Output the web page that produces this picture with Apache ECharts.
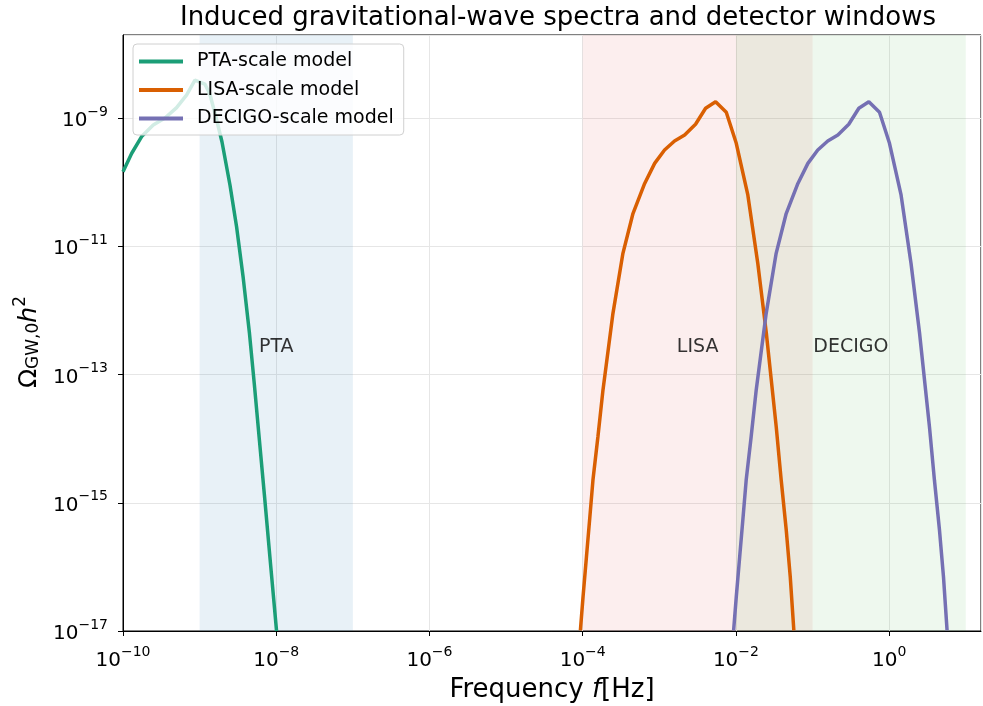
<!DOCTYPE html>
<html>
<head>
<meta charset="utf-8">
<title>Induced gravitational-wave spectra</title>
<script src="https://cdn.jsdelivr.net/npm/echarts@6/dist/echarts.min.js"></script>
<style>
  html, body { margin: 0; padding: 0; background: #fff; }
  #chart { width: 983px; height: 706px; }
</style>
</head>
<body>
<div id="chart"></div>
<script>
// spectra: frequency [Hz] and Omega_GW,0 h^2
const ptaFreq = [1.00e-10, 1.30e-10, 1.75e-10, 2.48e-10, 3.53e-10, 5.01e-10, 6.78e-10, 8.69e-10,
  1.17e-9, 1.36e-9, 1.67e-9, 1.96e-9, 2.49e-9, 3.04e-9, 3.71e-9, 4.47e-9, 5.19e-9, 6.03e-9,
  7.01e-9, 8.27e-9, 1.01e-8];
const ptaOmega = [1.45e-10, 2.82e-10, 5.13e-10, 7.76e-10, 1.00e-9, 1.45e-9, 2.29e-9, 3.89e-9,
  3.39e-9, 2.37e-9, 9.31e-10, 4.23e-10, 9.02e-11, 2.00e-11, 3.19e-12, 4.43e-13, 6.84e-14, 9.48e-15,
  1.32e-15, 1.42e-16, 1.00e-17];

const lisaFreq = [9.33e-5, 1.01e-4, 1.12e-4, 1.23e-4, 1.36e-4, 1.58e-4, 1.84e-4, 2.48e-4, 3.35e-4,
  4.53e-4, 6.44e-4, 8.69e-4, 1.17e-3, 1.58e-3, 2.14e-3, 2.97e-3, 4.02e-3, 5.43e-3, 7.48e-3,
  1.01e-2, 1.43e-2, 1.93e-2, 2.49e-2, 3.36e-2, 3.90e-2, 4.54e-2, 5.12e-2, 5.70e-2];
const lisaOmega = [1.02e-17, 3.39e-17, 1.45e-16, 5.37e-16, 2.24e-15, 1.07e-14, 5.75e-14, 8.91e-13,
  7.76e-12, 3.24e-11, 9.55e-11, 1.96e-10, 3.17e-10, 4.38e-10, 5.43e-10, 7.98e-10, 1.42e-9, 1.79e-9,
  1.23e-9, 4.03e-10, 6.31e-11, 5.37e-12, 4.47e-13, 1.51e-14, 2.24e-15, 3.72e-16, 6.92e-17, 1.02e-17];

const decigoFreq = [9.33e-3, 1.01e-2, 1.12e-2, 1.23e-2, 1.36e-2, 1.58e-2, 1.84e-2, 2.48e-2, 3.35e-2,
  4.53e-2, 6.44e-2, 8.69e-2, 0.117, 0.158, 0.214, 0.297, 0.402, 0.543, 0.748,
  1.01, 1.43, 1.93, 2.49, 3.36, 3.90, 4.54, 5.12, 5.70];
const decigoOmega = [1.02e-17, 3.39e-17, 1.45e-16, 5.37e-16, 2.24e-15, 1.07e-14, 5.75e-14, 8.91e-13,
  7.76e-12, 3.24e-11, 9.55e-11, 1.96e-10, 3.17e-10, 4.38e-10, 5.43e-10, 7.98e-10, 1.42e-9, 1.79e-9,
  1.23e-9, 4.03e-10, 6.31e-11, 5.37e-12, 4.47e-13, 1.51e-14, 2.24e-15, 3.72e-16, 6.92e-17, 1.02e-17];

const seriesNames = ["PTA-scale model", "LISA-scale model", "DECIGO-scale model"];

// detector windows [Hz]
const bandNames = ["PTA", "LISA", "DECIGO"];
const bandLow = [1e-9, 1e-4, 1e-2];
const bandHigh = [1e-7, 1e-1, 1e1];
const bandLabelOmega = 2.7e-13;

// tick labels (powers of ten)
const xTickExp = [-10, -8, -6, -4, -2, 0];
const yTickExp = [-17, -15, -13, -11, -9];

const FONT = "DejaVu Sans";
const lineColors = ["#1b9e77", "#d95f02", "#7570b3"];
const bandColors = ["rgba(31,119,180,0.1)", "rgba(214,39,40,0.08)", "rgba(44,160,44,0.08)"];

function pairs(f, o) {
  return f.map((v, i) => [v, o[i]]);
}

function powLabel(allowed) {
  return function (v) {
    const l = Math.log10(v);
    const e = Math.round(l);
    if (Math.abs(l - e) > 1e-6 || allowed.indexOf(e) < 0) return "";
    return "{b|10}{s|" + (e < 0 ? "\u2212" + (-e) : String(e)) + "}";
  };
}

const tickRich = {
  b: { fontFamily: FONT, fontSize: 20, color: "#000", lineHeight: 26, verticalAlign: "bottom" },
  s: { fontFamily: FONT, fontSize: 14, color: "#000", lineHeight: 15, verticalAlign: "top" }
};

const chart = echarts.init(document.getElementById("chart"), null, { renderer: "canvas" });

const lines = [pairs(ptaFreq, ptaOmega), pairs(lisaFreq, lisaOmega), pairs(decigoFreq, decigoOmega)];

chart.setOption({
  animation: false,
  backgroundColor: "#fff",
  title: {
    text: "Induced gravitational-wave spectra and detector windows",
    left: 553,
    textAlign: "center",
    top: 0,
    textStyle: { fontFamily: FONT, fontSize: 26, fontWeight: "normal", color: "#000" }
  },
  grid: {
    left: 123, right: 2, top: 35, bottom: 75,
    outerBoundsMode: "none",
    show: true, borderColor: "#000", borderWidth: 1, backgroundColor: "transparent"
  },
  legend: {
    data: seriesNames,
    orient: "vertical",
    left: 133, top: 44,
    padding: [8, 10, 7, 6],
    itemGap: 9.5,
    itemWidth: 44, itemHeight: 4,
    icon: "rect",
    backgroundColor: "rgba(255,255,255,0.8)",
    borderColor: "#d0d0d0", borderWidth: 1, borderRadius: 4,
    textStyle: { fontFamily: FONT, fontSize: 19, color: "#000", padding: [0, 0, 0, 9] }
  },
  xAxis: {
    type: "log", logBase: 10,
    min: 1e-10, max: 15.8, interval: 2,
    name: "Frequency {i|f}[Hz]",
    nameLocation: "middle", nameGap: 46,
    nameTextStyle: {
      fontFamily: FONT, fontSize: 26, color: "#000",
      rich: { i: { fontFamily: FONT, fontSize: 26, fontStyle: "italic", color: "#000" } }
    },
    axisLine: { show: true, lineStyle: { color: "#000", width: 1 } },
    axisTick: { show: true, length: 5, lineStyle: { color: "#000" } },
    minorTick: { show: false },
    axisLabel: { margin: 14, formatter: powLabel(xTickExp), rich: tickRich, showMaxLabel: false },
    splitLine: { show: true, lineStyle: { color: "#e6e6e6", width: 1 } }
  },
  yAxis: {
    type: "log", logBase: 10,
    min: 1e-17, max: 1.97e-8, interval: 2,
    name: "{o|\u03A9}{sub|GW,0}{i|h}{sup|2}",
    nameLocation: "middle", nameGap: 80, nameRotate: 90,
    nameTextStyle: {
      fontFamily: FONT, fontSize: 24, color: "#000", padding: [0, 18, 0, 0],
      rich: {
        o: { fontFamily: FONT, fontSize: 25, color: "#000", lineHeight: 30, verticalAlign: "bottom" },
        sub: { fontFamily: FONT, fontSize: 17, color: "#000", lineHeight: 16, verticalAlign: "bottom" },
        i: { fontFamily: FONT, fontSize: 25, fontStyle: "italic", color: "#000", lineHeight: 30, verticalAlign: "bottom" },
        sup: { fontFamily: FONT, fontSize: 17, color: "#000", lineHeight: 16, verticalAlign: "top" }
      }
    },
    axisLine: { show: true, lineStyle: { color: "#000", width: 1 } },
    axisTick: { show: true, length: 5, lineStyle: { color: "#000" } },
    minorTick: { show: false },
    axisLabel: { margin: 15, formatter: powLabel(yTickExp), rich: tickRich, showMaxLabel: false },
    splitLine: { show: true, lineStyle: { color: "#e6e6e6", width: 1 } }
  },
  series: seriesNames.map((name, k) => ({
    name: name,
    type: "line",
    data: lines[k],
    symbol: "none",
    showSymbol: false,
    z: 3,
    lineStyle: { color: lineColors[k], width: 3.5 },
    itemStyle: { color: lineColors[k] },
    markArea: {
      silent: true,
      itemStyle: { color: bandColors[k] },
      data: [[{ xAxis: bandLow[k] }, { xAxis: bandHigh[k] }]]
    }
  })).concat([{
    type: "scatter",
    silent: true,
    symbolSize: 0,
    z: 4,
    data: bandNames.map((n, k) => ({ name: n, value: [Math.sqrt(bandLow[k] * bandHigh[k]), bandLabelOmega] })),
    label: {
      show: true, position: "inside", formatter: "{b}",
      fontFamily: FONT, fontSize: 19, color: "#000"
    }
  }])
});
</script>
</body>
</html>
